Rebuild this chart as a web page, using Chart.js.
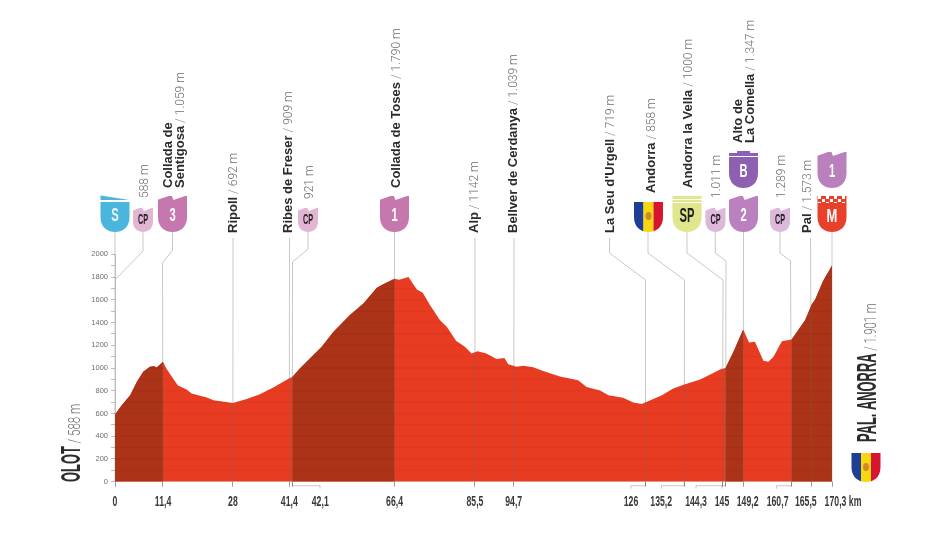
<!DOCTYPE html>
<html>
<head>
<meta charset="utf-8">
<title>Olot - Pal. Anorra</title>
<script src="https://cdn.jsdelivr.net/npm/chart.js@4"></script>
<style>
  html, body { margin: 0; padding: 0; background: #fff; }
  canvas { display: block; }
</style>
</head>
<body>
<canvas id="profile-chart" width="931" height="541"></canvas>
<script>
// profile
var profileKm = [0, 1.6, 3.6, 5.2, 6.7, 8.3, 9.3, 9.9, 11.4, 12.2, 13.5, 14.9, 17, 18.2, 21.8, 23.4, 28,
    31.3, 34.4, 37.6, 41.4, 42.1, 43.9, 46.7, 49.1, 51.9, 55.8, 59, 62.2, 63.7, 66.4, 67.5, 69.7,
    71.7, 73.1, 74.8, 77.2, 78.8, 81, 83.1, 84.7, 86.1, 88.2, 90.6, 92.5, 93.4, 95.4, 97, 99.3,
    101.7, 105.7, 110, 112, 115.2, 117.2, 120.7, 123.1, 125.1, 129.9, 132.6, 135.4, 139, 142.1, 143.7,
    145, 146.9, 149.2, 150.6, 152, 154, 155.2, 156.4, 158.4, 160.7, 162.7, 163.9, 165.5, 166.3, 168.2, 170.3];
var profileElev = [590, 672, 760, 878, 966, 1010, 1016, 1004, 1056, 996, 922, 849, 810, 775, 740, 717, 692,
    728, 770, 828, 909, 921, 996, 1098, 1187, 1319, 1466, 1568, 1706, 1736, 1786, 1777, 1800,
    1691, 1662, 1553, 1421, 1362, 1239, 1186, 1128, 1148, 1128, 1080, 1089, 1033, 1010, 1019, 1007,
    974, 925, 892, 833, 802, 760, 738, 696, 684, 760, 819, 857, 899, 957, 987,
    1000, 1142, 1339, 1225, 1230, 1063, 1054, 1098, 1236, 1250, 1357, 1421, 1560, 1603, 1767, 1901];

var tickKm = [0, 11.4, 28, 41.4, 42.1, 66.4, 85.5, 94.7, 126, 135.2, 144.3, 145, 149.2, 160.7, 165.5, 170.3];
var tickLabels = ['0', '11,4', '28', '41,4', '42,1', '66,4', '85,5', '94,7', '126', '135,2', '144,3', '145', '149,2', '160,7', '165,5', '170,3 km'];

// the steep bits
var climbFrom = [0, 42.1, 145, 160.7];
var climbTo = [11.4, 66.4, 149.2, 170.3];

var RED = '#e83c22';
var DARK = '#ab3317';
var GREY = '#6f6f6f';
var SANS = '"Liberation Sans"';

// small helper so the faint altitude bands show only inside the area
function bandFill(color, band) {
    return function (c) {
        var chart = c.chart;
        if (!chart.chartArea) return color;
        var y = chart.scales.y;
        var g = chart.ctx.createLinearGradient(0, y.top, 0, y.bottom);
        for (var v = 1900; v > 0; v -= 100) {
            var p = (y.getPixelForValue(v) - y.top) / (y.bottom - y.top);
            g.addColorStop(p - 0.004, color);
            g.addColorStop(p - 0.002, band);
            g.addColorStop(p + 0.002, band);
            g.addColorStop(p + 0.004, color);
        }
        return g;
    };
}

function points(from, to) {
    var out = [];
    for (var i = 0; i < profileKm.length; i++) {
        if (profileKm[i] >= from && profileKm[i] <= to) out.push({ x: profileKm[i], y: profileElev[i] });
    }
    return out;
}

var datasets = [];
for (var n = 0; n < climbFrom.length; n++) {
    datasets.push({
        data: points(climbFrom[n], climbTo[n]),
        backgroundColor: bandFill(DARK, '#a53015'),
        borderWidth: 0, pointRadius: 0, fill: 'origin', tension: 0
    });
}
datasets.push({
    data: points(0, 170.3),
    backgroundColor: bandFill(RED, '#de391f'),
    borderWidth: 0, pointRadius: 0, fill: 'origin', tension: 0
});

// text, rotated or squeezed. x or y is the middle of a normal line
function label(ctx, x, y, parts, rot) {
    ctx.save();
    if (rot) {
        ctx.translate(x + 4.5, y);
        ctx.rotate(-Math.PI / 2);
    } else {
        ctx.translate(x, y + 5.5);
    }
    ctx.textBaseline = 'alphabetic';
    ctx.textAlign = 'left';
    var pos = 0;
    parts.forEach(function (p) {
        ctx.font = p.font;
        ctx.fillStyle = p.color;
        ctx.save();
        ctx.translate(pos, 0);
        ctx.scale(p.sx || 1, 1);
        ctx.fillText(p.text, 0, 0);
        ctx.restore();
        pos += ctx.measureText(p.text).width * (p.sx || 1);
    });
    ctx.restore();
}

function bold(t) { return { text: t, font: 'bold 13px ' + SANS, color: '#2b2b2b', sx: 1 }; }
function thin(t) { return { text: t, font: '300 12px Roboto', color: '#6e6e6e', sx: 1 }; }

function shieldPath(ctx, cx, top, bottom, w) {
    var l = cx - w / 2, r = cx + w / 2, k = w * 0.52;
    ctx.beginPath();
    ctx.moveTo(l, top);
    ctx.lineTo(r, top);
    ctx.lineTo(r, bottom - k);
    ctx.bezierCurveTo(r, bottom - k * 0.3, cx + w * 0.25, bottom, cx, bottom);
    ctx.bezierCurveTo(cx - w * 0.25, bottom, l, bottom - k * 0.3, l, bottom - k);
    ctx.closePath();
}

function peaks(ctx, cx, top, w, h) {
    // white cut-outs that leave two slanted peaks on the top edge
    ctx.fillStyle = '#fff';
    var l = cx - w / 2, r = cx + w / 2;
    ctx.beginPath();
    ctx.moveTo(l - 1, top - 1); ctx.lineTo(cx - 1, top - 1); ctx.lineTo(l - 1, top + h); ctx.closePath();
    ctx.moveTo(cx - 1, top - 1); ctx.lineTo(cx + 1, top + h); ctx.lineTo(r + 1, top - 1); ctx.closePath();
    ctx.fill();
}

function letter(ctx, t, cx, cy, color, size, sx) {
    ctx.save();
    ctx.translate(cx, cy);
    ctx.scale(sx, 1);
    ctx.font = 'bold ' + size + 'px ' + SANS;
    ctx.fillStyle = color;
    ctx.textAlign = 'center';
    ctx.textBaseline = 'middle';
    ctx.fillText(t, 0, 0);
    ctx.restore();
}

function mountain(ctx, cx, top, bottom, color, t) {
    shieldPath(ctx, cx, top, bottom, 29);
    ctx.fillStyle = color;
    ctx.fill();
    peaks(ctx, cx, top, 29, 4);
    letter(ctx, t, cx, top + 20, '#fff', 18, 0.62);
}

function checkpoint(ctx, cx, color) {
    shieldPath(ctx, cx, 208, 232, 20);
    ctx.fillStyle = color;
    ctx.fill();
    peaks(ctx, cx, 208, 20, 3);
    letter(ctx, 'CP', cx, 220.5, '#241a24', 14, 0.52);
}

function flag(ctx, cx, top, bottom) {
    ctx.save();
    shieldPath(ctx, cx, top, bottom, 29);
    ctx.clip();
    ctx.fillStyle = '#1e3f93';
    ctx.fillRect(cx - 15, top, 10, bottom - top);
    ctx.fillStyle = '#f8d70f';
    ctx.fillRect(cx - 5, top, 10, bottom - top);
    ctx.fillStyle = '#d8152f';
    ctx.fillRect(cx + 5, top, 10, bottom - top);
    ctx.fillStyle = '#d08a2a';
    ctx.beginPath();
    ctx.ellipse(cx, top + 14, 3, 4, 0, 0, Math.PI * 2);
    ctx.fill();
    ctx.restore();
}

var leaders = [
    { km: 0, top: [[115, 232]] },
    { km: 0, top: [[143, 232], [143, 251], [116, 279]], stop: 280 },
    { km: 11.4, top: [[172.5, 232], [172.5, 250], [162.5, 263]] },
    { km: 28, top: [[233, 238]] },
    { km: 41.4, top: [[289.5, 238]] },
    { km: 42.1, top: [[308, 232], [308, 249], [292.5, 262]], tail: 320 },
    { km: 66.4, top: [[394.5, 232]] },
    { km: 85.5, top: [[475, 238]] },
    { km: 94.7, top: [[514, 238]] },
    { km: 126, top: [[609.5, 238], [609.5, 253], [645.5, 280]], tail: 631 },
    { km: 135.2, top: [[648, 232], [648, 253], [684.5, 280]], tail: 661.5 },
    { km: 144.3, top: [[687, 232], [687, 253], [723, 280]], tail: 696 },
    { km: 145, top: [[715.3, 232], [715.3, 253], [726, 261]], tail: 722 },
    { km: 149.2, top: [[743.5, 232]] },
    { km: 160.7, top: [[780, 232], [780, 253], [790.5, 261]], tail: 776.5 },
    { km: 165.5, top: [[810.5, 238]] },
    { km: 170.3, top: [[832, 232]] }
];

var tickLabelNudge = [0, 0, 0, 0, 28, 0, 0, 0, -14.5, -23, -26.5, -3.5, 4.5, -14, -6, 11];

var decorations = {
    id: 'decorations',
    afterDatasetsDraw: function (chart) {
        var ctx = chart.ctx, x = chart.scales.x, y = chart.scales.y;
        var base = y.getPixelForValue(0);

        // leader lines
        ctx.save();
        ctx.strokeStyle = 'rgba(110,100,100,0.36)';
        ctx.lineWidth = 1;
        leaders.forEach(function (l) {
            var px = x.getPixelForValue(l.km);
            ctx.beginPath();
            l.top.forEach(function (p, i) {
                if (i == 0) ctx.moveTo(p[0], p[1]); else ctx.lineTo(p[0], p[1]);
            });
            if (!l.stop) {
                ctx.lineTo(px, base);
                if (l.tail) {
                    ctx.lineTo(px, base + 4);
                    ctx.lineTo(l.tail, base + 4);
                    ctx.lineTo(l.tail, base + 7);
                }
            }
            ctx.stroke();
        });
        ctx.restore();

        // x labels
        x.ticks.forEach(function (t, i) {
            var px = x.getPixelForValue(t.value) + tickLabelNudge[i];
            var font = 'bold 15px ' + SANS;
            ctx.font = font;
            var w = ctx.measureText(tickLabels[i]).width * 0.58;
            label(ctx, px - w / 2, 500.3, [{ text: tickLabels[i], font: font, color: '#3a3a3a', sx: 0.58 }], false);
        });

        // shields
        shieldPath(ctx, 115, 202, 232, 29);
        ctx.fillStyle = '#4bb6dd'; ctx.fill();
        ctx.beginPath(); ctx.moveTo(100.5, 195.5); ctx.lineTo(129.5, 200); ctx.lineTo(100.5, 200); ctx.closePath();
        ctx.fill();
        letter(ctx, 'S', 115, 216, '#e8f6fb', 18, 0.62);

        checkpoint(ctx, 143, '#e2b6d2');
        mountain(ctx, 172.5, 196, 232, '#c677ae', '3');
        checkpoint(ctx, 308, '#e2b6d2');
        mountain(ctx, 394.5, 196, 232, '#c677ae', '1');
        flag(ctx, 648.5, 202, 232);

        shieldPath(ctx, 687, 196, 232, 29);
        ctx.fillStyle = '#dfe68c'; ctx.fill();
        ctx.fillStyle = '#fff';
        ctx.fillRect(672, 199, 30, 1);
        ctx.fillRect(672, 202, 30, 1);
        letter(ctx, 'SP', 687, 216.5, '#1f1f1f', 21, 0.53);

        checkpoint(ctx, 715.5, '#dcb8da');
        mountain(ctx, 743.5, 196, 232, '#bb80bf', '2');

        shieldPath(ctx, 743.5, 153, 188, 29);
        ctx.fillStyle = '#8e60b2'; ctx.fill();
        ctx.fillRect(737, 151, 13, 3);
        ctx.fillStyle = '#fff';
        ctx.fillRect(728, 156, 31, 1);
        letter(ctx, 'B', 743.5, 172, '#fff', 18, 0.62);

        checkpoint(ctx, 780, '#dcb8da');

        shieldPath(ctx, 832, 196, 232, 29);
        ctx.fillStyle = '#e8402a'; ctx.fill();
        ctx.fillStyle = '#fff';
        for (var i = 0; i < 7; i++) {
            ctx.fillRect(818 + i * 4, 196 + (i % 2) * 3, 3, 3);
            ctx.fillRect(818 + i * 4, 202 - (i % 2) * 3, 3, 1);
        }
        letter(ctx, 'M', 832, 217, '#fff', 18, 0.72);
        mountain(ctx, 832, 152, 188, '#ba7fbd', '1');
        flag(ctx, 866, 453, 482);

        // rotated place names
        label(ctx, 143, 198, [thin('588 m')], true);
        label(ctx, 167, 188, [bold('Collada de')], true);
        label(ctx, 179, 188, [bold('Sentigosa'), thin(' / 1.059 m')], true);
        label(ctx, 232, 233, [bold('Ripoll'), thin(' / 692 m')], true);
        label(ctx, 287, 233, [bold('Ribes de Freser'), thin(' / 909 m')], true);
        label(ctx, 308, 199, [thin('921 m')], true);
        label(ctx, 395, 188, [bold('Collada de Toses'), thin(' / 1.790 m')], true);
        label(ctx, 473, 233, [bold('Alp'), thin(' / 1142 m')], true);
        label(ctx, 512, 233, [bold('Bellver de Cerdanya'), thin(' / 1.039 m')], true);
        label(ctx, 609, 233, [bold('La Seu d\'Urgell'), thin(' / 719 m')], true);
        label(ctx, 650, 193, [bold('Andorra'), thin(' / 858 m')], true);
        label(ctx, 687, 188, [bold('Andorra la Vella'), thin(' / 1000 m')], true);
        label(ctx, 715, 198, [thin('1.011 m')], true);
        label(ctx, 737, 143, [bold('Alto de')], true);
        label(ctx, 749, 143, [bold('La Comella'), thin(' / 1.347 m')], true);
        label(ctx, 780, 198, [thin('1.289 m')], true);
        label(ctx, 806, 233, [bold('Pal'), thin(' / 1.573 m')], true);

        // start and finish
        label(ctx, 75.5, 482, [
            { text: 'OLOT', font: 'bold 28px ' + SANS, color: '#2b2b2b', sx: 0.46 },
            { text: ' / 588 m', font: '300 17px Roboto', color: '#6e6e6e', sx: 0.68 }
        ], true);
        label(ctx, 871.5, 442, [
            { text: 'PAL. ANORRA', font: 'bold 28px ' + SANS, color: '#2b2b2b', sx: 0.46 },
            { text: ' / 1.901 m', font: '300 17px Roboto', color: '#6e6e6e', sx: 0.66 }
        ], true);
    }
};

var chart = new Chart(document.getElementById('profile-chart').getContext('2d'), {
    type: 'line',
    data: { datasets: datasets },
    plugins: [decorations],
    options: {
        responsive: false,
        animation: false,
        devicePixelRatio: 1,
        layout: { padding: { top: 254.3, right: 99, left: 0, bottom: 0 } },
        plugins: { legend: { display: false }, title: { display: false }, tooltip: { enabled: false } },
        scales: {
            x: {
                type: 'linear',
                min: 0,
                max: 170.3,
                afterFit: function (s) { s.height = 59.3; },
                afterBuildTicks: function (s) {
                    s.ticks = tickKm.map(function (v) { return { value: v }; });
                },
                border: { color: '#d8d8d8' },
                grid: { drawOnChartArea: false, tickLength: 5, color: '#9a9a9a' },
                ticks: { display: false, autoSkip: false }
            },
            y: {
                min: 0,
                max: 2000,
                afterFit: function (s) { s.width = 115; },
                border: { color: '#cfcfcf' },
                grid: { drawOnChartArea: false, tickLength: 4, color: '#bdbdbd' },
                ticks: {
                    stepSize: 100,
                    padding: 3,
                    color: GREY,
                    font: { family: SANS, size: 7.5 },
                    autoSkip: false,
                    callback: function (v) { return v % 200 == 0 ? v : ''; }
                }
            }
        }
    }
});
</script>
</body>
</html>
